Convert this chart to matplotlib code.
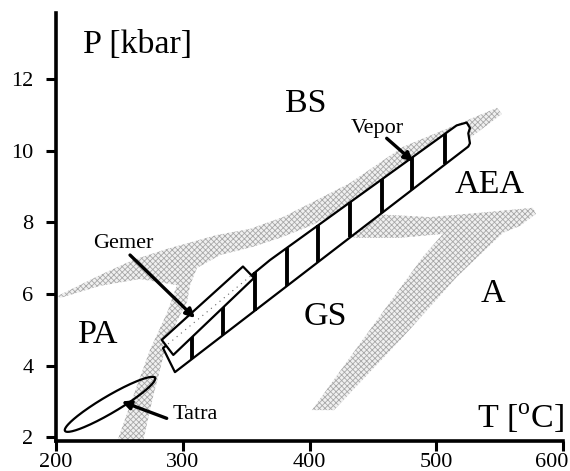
import numpy as np
import matplotlib
matplotlib.use("Agg")
import matplotlib.pyplot as plt
import matplotlib.transforms as mtransforms

plt.rcParams['font.family'] = ['Liberation Serif', 'DejaVu Serif']
plt.rcParams['mathtext.fontset'] = 'custom'
plt.rcParams['mathtext.rm'] = 'Liberation Serif'
plt.rcParams['hatch.linewidth'] = 0.6

# ---- data (T in deg C, P in kbar) ----
xticks = [200, 300, 400, 500, 600]
yticks = [2, 4, 6, 8, 10, 12]

# stippled facies-boundary band (left "7")
band1_T = [201.7, 234.8, 260.8, 287.6, 327.0, 353.0, 379.0, 405.8, 431.8, 473.6, 547.7,
           551.6, 526.4, 471.2, 420.0, 400.3, 376.7, 355.4, 329.4, 311.3, 305.8, 303.4,
           297.9, 286.8, 282.1, 276.6, 268.7, 248.2, 260.8, 274.2, 287.6, 295.5, 266.4,
           234.8, 203.3]
band1_P = [5.95, 6.53, 6.95, 7.26, 7.65, 7.82, 8.15, 8.63, 9.10, 10.11, 11.20,
           11.03, 10.36, 8.91, 8.24, 7.90, 7.57, 7.32, 7.09, 6.73, 6.25, 5.78,
           5.42, 4.58, 3.88, 3.13, 1.87, 1.87, 3.13, 4.44, 5.47, 6.25, 6.42,
           6.23, 5.89]

# stippled facies-boundary band (right "7")
band2_T = [427.8, 457.8, 494.8, 534.2, 576.0, 578.4, 565.7, 552.4, 516.1, 473.6, 419.2,
           401.9, 447.5, 489.3, 505.1, 471.2, 437.3]
band2_P = [7.62, 8.22, 8.15, 8.27, 8.41, 8.24, 7.90, 7.71, 6.48, 4.80, 2.76,
           2.76, 5.00, 7.04, 7.68, 7.57, 7.57]

# Vepor P-T path strip
vepor_low_T = [293.9, 525.1]
vepor_low_P = [3.82, 10.12]
vepor_end_T = [526.4, 525.1, 526.4, 523.8]
vepor_end_P = [10.21, 10.49, 10.64, 10.79]
vepor_up_T = [515.9, 368.8, 284.5]
vepor_up_P = [10.71, 6.95, 4.49]
vepor_bars_T = [307, 332, 357, 382, 407, 432, 457, 481, 507]

# Gemer box
gemer_T = [283.5, 347.5, 356.2, 292.6]
gemer_P = [4.72, 6.77, 6.45, 4.30]

# Tatra ellipse: centre, semi-axis vectors
tatra_center = (242.7, 2.92)
tatra_major = (35.46, 0.740)
tatra_minor = (3.40, -0.205)

# facies labels
facies = ["BS", "AEA", "A", "GS", "PA"]
facies_T = [397.2, 542.1, 544.9, 412.1, 233.6]
facies_P = [11.09, 8.82, 5.79, 5.14, 4.63]

# unit labels
names = ["Gemer", "Vepor", "Tatra"]
names_T = [253.0, 453.5, 309.7]
names_P = [7.28, 10.49, 2.50]
arrow_start_T = [258.5, 460.8, 287.4]
arrow_start_P = [7.09, 10.35, 2.53]
arrow_end_T = [309.7, 481.7, 251.9]
arrow_end_P = [5.33, 9.70, 3.00]

# ---- figure ----
fig = plt.figure(figsize=(5.7, 4.71), dpi=100)
ax = fig.add_axes([0.0979, 0.0643, 0.8904, 0.9074])
ax.set_xlim(200, 600)
ax.set_ylim(1.905, 13.84)

for s in ['top', 'right']:
    ax.spines[s].set_visible(False)
for s in ['left', 'bottom']:
    ax.spines[s].set_linewidth(2.6)
ax.set_xticks(xticks)
ax.set_yticks(yticks)
ax.tick_params(axis='both', direction='out', length=7, width=2.2, labelsize=16)
ax.tick_params(axis='y', pad=9)
ax.tick_params(axis='x', pad=1.5)
last = ax.get_xticklabels()[-1]
last.set_transform(last.get_transform() +
                   mtransforms.ScaledTranslation(-0.115, 0, fig.dpi_scale_trans))

stip = dict(facecolor='#f0f0f0', edgecolor='#a8a8a8', hatch='xxxxxx', linewidth=0, zorder=1)
ax.fill(band1_T, band1_P, **stip)
ax.fill(band2_T, band2_P, **stip)

# Vepor strip
vT = vepor_low_T + vepor_end_T + vepor_up_T
vP = vepor_low_P + vepor_end_P + vepor_up_P
ax.fill(vT, vP, facecolor='white', edgecolor='black', linewidth=1.6, zorder=3,
        joinstyle='round')

up_T = vepor_up_T[::-1]
up_P = vepor_up_P[::-1]
for t in vepor_bars_T:
    p_lo = np.interp(t, vepor_low_T, vepor_low_P)
    p_hi = np.interp(t, up_T, up_P)
    ax.plot([t, t], [p_lo, p_hi], color='black', lw=2.8, zorder=4, solid_capstyle='butt')

# Gemer box
ax.fill(gemer_T, gemer_P, facecolor='white', edgecolor='black', linewidth=1.6, zorder=5,
        joinstyle='round')
tt = np.linspace(up_T[0] + 4, gemer_T[2] - 2, 20)
ax.plot(tt, np.interp(tt, up_T, up_P), color='#666666', lw=0.8, ls=(0, (1, 4)), zorder=6)

# Tatra ellipse
th = np.linspace(0, 2 * np.pi, 200)
eT = tatra_center[0] + tatra_major[0] * np.cos(th) + tatra_minor[0] * np.sin(th)
eP = tatra_center[1] + tatra_major[1] * np.cos(th) + tatra_minor[1] * np.sin(th)
ax.plot(eT, eP, color='black', lw=1.6, zorder=6)

# labels
for lab, x, y in zip(facies, facies_T, facies_P):
    ax.text(x, y, lab, fontsize=24.5, ha='center', va='baseline', zorder=7)
ax.text(221.4, 12.73, "P [kbar]", fontsize=24.5, ha='left', va='baseline', zorder=7)
ax.text(531.7, 2.26, r"T [$^{\mathrm{o}}$C]", fontsize=24.5, ha='left', va='baseline', zorder=7)

for lab, x, y, x0, y0, x1, y1 in zip(names, names_T, names_P, arrow_start_T, arrow_start_P,
                                     arrow_end_T, arrow_end_P):
    ax.text(x, y, lab, fontsize=16, ha='center', va='baseline', zorder=7)
    ax.annotate('', xy=(x1, y1), xytext=(x0, y0),
                arrowprops=dict(arrowstyle='-|>', color='black', lw=2.4,
                                mutation_scale=13, shrinkA=0, shrinkB=0), zorder=8)

fig.savefig("out.png", dpi=100)
